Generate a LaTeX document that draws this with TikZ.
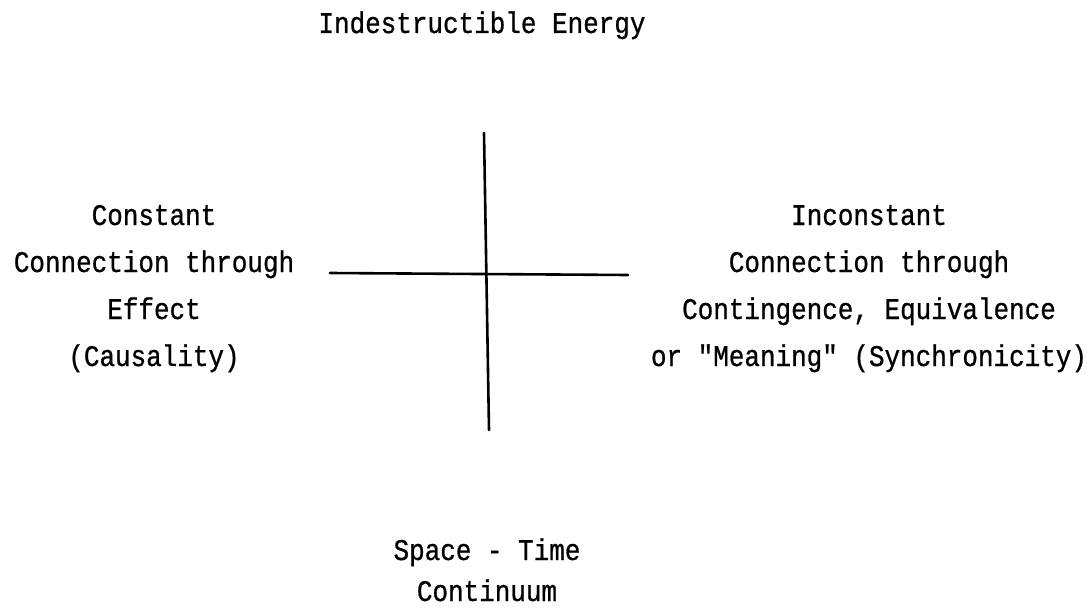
\documentclass[tikz,border=0pt]{standalone}
\usepackage{fontspec}
\newfontfamily\tw[FakeStretch=0.865,FakeBold=0.8]{Liberation Mono}
\begin{document}
\begin{tikzpicture}[x=1pt,y=-1pt,
  txt/.style={anchor=base,inner sep=0pt,font=\tw\fontsize{30}{36}\selectfont},
  axis/.style={line width=2.6pt,line cap=round}]
\useasboundingbox[fill=white] (0,0) rectangle (1089,610);
% title
\node[txt] (top) at (482,33) {Indestructible Energy};
% left block
\node[txt] (l1) at (154,225) {Constant};
\node[txt] (l2) at (154,272) {Connection through};
\node[txt] (l3) at (154,319) {Effect};
\node[txt] (l4) at (154,366) {(Causality)};
% right block
\node[txt] (r1) at (869,225) {Inconstant};
\node[txt] (r2) at (869,272) {Connection through};
\node[txt] (r3) at (869,319) {Contingence, Equivalence};
\node[txt] (r4) at (869,366) {or "Meaning" (Synchronicity)};
% bottom
\node[txt] (b1) at (487,560) {Space - Time};
\node[txt] (b2) at (487,601) {Continuum};
% axes
\coordinate (vt) at (484,133);
\coordinate (vb) at (489,430);
\coordinate (hl) at (330,273);
\coordinate (hr) at (628,275);
\draw[axis] (vt) -- (vb);
\draw[axis] (hl) -- (hr);
\end{tikzpicture}
\end{document}
